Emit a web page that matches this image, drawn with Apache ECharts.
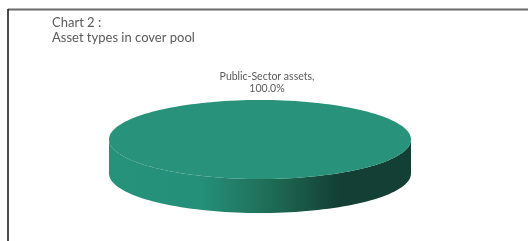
<!DOCTYPE html>
<html><head><meta charset="utf-8">
<script src="https://cdn.jsdelivr.net/npm/echarts@6/dist/echarts.min.js"></script>
<style>html,body{margin:0;padding:0;background:#fff}#c{width:528px;height:241px}</style>
</head><body><div id="c"></div>
<script>
const categories = ['Public-Sector assets'];
const shares = [100.0];
const titleLines = ['Chart 2 :', 'Asset types in cover pool'];

const chart = echarts.init(document.getElementById('c'), null, {renderer: 'canvas'});
const total = shares.reduce((a, b) => a + b, 0);

function ellPts(cx, cy, rx, ry, a0, a1, n) {
  const pts = [];
  for (let i = 0; i <= n; i++) {
    const a = a0 + (a1 - a0) * i / n;
    pts.push([cx + rx * Math.cos(a), cy + ry * Math.sin(a)]);
  }
  return pts;
}

chart.setOption({
  animation: false,
  graphic: [
    {type: 'line', shape: {x1: 8, y1: 9.5, x2: 528, y2: 9.5}, style: {stroke: '#6a6a6a', lineWidth: 2}},
    {type: 'line', shape: {x1: 8, y1: 9, x2: 8, y2: 241}, style: {stroke: '#111', lineWidth: 1.5}},
    {type: 'text', left: 52, top: 15, style: {text: titleLines.join('\n'), font: '13px Lato', fill: '#5a5a5a', lineHeight: 15.5}}
  ],
  series: [{
    type: 'custom',
    coordinateSystem: 'none',
    data: shares.map((v, i) => ({name: categories[i], value: v})),
    renderItem: function (params, api) {
      const idx = params.dataIndex;
      const cx = 260, cy = 139.5, rx = 151, ry = 39.5, h = 34;
      let before = 0;
      for (let i = 0; i < idx; i++) before += shares[i];
      const v = api.value(0);
      const a0 = -Math.PI / 2 + before / total * 2 * Math.PI;
      const a1 = a0 + v / total * 2 * Math.PI;
      const children = [];
      const full = a1 - a0 >= 2 * Math.PI - 1e-9;
      let f0 = Math.max(a0, 0), f1 = Math.min(a1, Math.PI);
      if (full) { f0 = 0; f1 = Math.PI; }
      if (f1 > f0) {
        const top = ellPts(cx, cy, rx, ry, f0, f1, 80);
        const bot = ellPts(cx, cy + h, rx, ry, f1, f0, 80);
        children.push({
          type: 'polygon',
          shape: {points: top.concat(bot)},
          style: {
            fill: new echarts.graphic.LinearGradient(0, 0, 1, 0, [
              {offset: 0, color: '#27927a'},
              {offset: 0.3, color: '#25907a'},
              {offset: 0.52, color: '#1f6f58'},
              {offset: 0.76, color: '#143f35'},
              {offset: 1, color: '#143f35'}
            ]),
            stroke: null
          }
        });
      }
      let topPts;
      if (full) topPts = ellPts(cx, cy, rx, ry, 0, 2 * Math.PI, 160);
      else topPts = [[cx, cy]].concat(ellPts(cx, cy, rx, ry, a0, a1, 120));
      children.push({type: 'polygon', shape: {points: topPts}, style: {fill: '#28937a', stroke: null}});
      children.push({
        type: 'text',
        style: {
          text: categories[idx] + ',\n' + v.toFixed(1) + '%',
          x: 267, y: 82.5, align: 'center', verticalAlign: 'middle',
          font: '10.5px Lato', fill: '#5a5a5a', lineHeight: 12
        }
      });
      return {type: 'group', children: children};
    }
  }]
});
</script></body></html>
